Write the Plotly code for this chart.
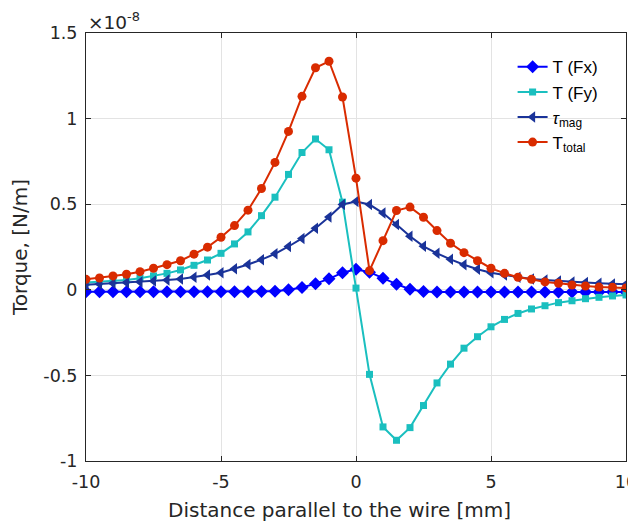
import plotly.graph_objects as go

# Distance parallel to the wire [mm]
x_mm = [i * 0.5 - 10 for i in range(41)]

# Torque values in units of 1e-8 N/m
T_Fx = [-0.012, -0.012, -0.012, -0.012, -0.012, -0.012, -0.012, -0.012, -0.012, -0.012,
        -0.012, -0.012, -0.011, -0.010, -0.008, 0.000, 0.013, 0.036, 0.064, 0.100,
        0.120, 0.103, 0.067, 0.033, 0.003, -0.010, -0.013, -0.013, -0.013, -0.013,
        -0.013, -0.013, -0.013, -0.013, -0.013, -0.013, -0.013, -0.013, -0.013, -0.013, -0.013]

T_Fy = [0.042, 0.047, 0.051, 0.057, 0.067, 0.081, 0.096, 0.116, 0.143, 0.174,
        0.213, 0.268, 0.338, 0.433, 0.541, 0.674, 0.802, 0.881, 0.818, 0.512,
        0.010, -0.494, -0.801, -0.879, -0.805, -0.676, -0.544, -0.434, -0.341, -0.274,
        -0.216, -0.173, -0.138, -0.112, -0.093, -0.075, -0.064, -0.052, -0.044, -0.036, -0.030]

tau_mag = [0.030, 0.034, 0.038, 0.042, 0.046, 0.051, 0.057, 0.063, 0.073, 0.087,
           0.100, 0.123, 0.148, 0.176, 0.210, 0.253, 0.300, 0.360, 0.425, 0.498,
           0.516, 0.498, 0.448, 0.382, 0.313, 0.254, 0.213, 0.178, 0.146, 0.120,
           0.100, 0.087, 0.073, 0.063, 0.057, 0.051, 0.046, 0.042, 0.038, 0.034, 0.032]

T_total = [0.061, 0.069, 0.081, 0.091, 0.106, 0.126, 0.147, 0.170, 0.208, 0.249,
           0.307, 0.375, 0.465, 0.592, 0.744, 0.925, 1.130, 1.297, 1.335, 1.126,
           0.652, 0.112, 0.287, 0.463, 0.483, 0.424, 0.346, 0.272, 0.217, 0.170,
           0.126, 0.096, 0.073, 0.061, 0.046, 0.038, 0.028, 0.022, 0.016, 0.015, 0.011]

y_ticks = [-1, -0.5, 0, 0.5, 1, 1.5]
y_tick_text = ["-1", "-0.5", "0", "0.5", "1", "1.5"]
x_ticks = [-10, -5, 0, 5, 10]
x_tick_text = ["-10", "-5", "0", "5", "10"]

names = ["T (Fx)", "T (Fy)", "<i>τ</i><sub>mag</sub>", "T<sub>total</sub>"]
series = [T_Fx, T_Fy, tau_mag, T_total]
colors = ["#0000ff", "#1abfbf", "#1a3399", "#d92b00"]
symbols = ["diamond", "square", "triangle-left", "circle"]
msizes = [10, 7, 10, 9]

fig = go.Figure()
for name, ys, c, s, ms in zip(names, series, colors, symbols, msizes):
    fig.add_trace(go.Scatter(
        x=x_mm, y=ys, mode="lines+markers", name=name,
        line=dict(color=c, width=2),
        marker=dict(symbol=s, size=ms, color=c, line=dict(width=0)),
    ))

axis_common = dict(
    showgrid=True, gridcolor="#e3e3e3", gridwidth=1,
    showline=True, linecolor="#262626", linewidth=1, mirror="ticks",
    ticks="inside", ticklen=5, tickcolor="#262626",
    zeroline=False, automargin=False,
    tickfont=dict(family="DejaVu Sans", size=17.5, color="#262626"),
)

fig.update_xaxes(
    range=[-10, 10], tickvals=x_ticks, ticktext=x_tick_text,
    ticklabelstandoff=5,
    **axis_common,
)
fig.update_yaxes(
    range=[-1, 1.5], tickvals=y_ticks, ticktext=y_tick_text,
    ticklabelstandoff=4,
    title=dict(text="Torque, [N/m]",
               font=dict(family="DejaVu Sans", size=20, color="#262626"), standoff=10),
    **axis_common,
)

# x-axis title (offset left of centre, as in the reference)
fig.add_annotation(
    xref="paper", yref="paper", x=0.47, y=0, xanchor="center", yanchor="top",
    text="Distance parallel to the wire [mm]", showarrow=False,
    font=dict(family="DejaVu Sans", size=20, color="#262626"),
    yshift=-35,
)

fig.add_annotation(
    xref="paper", yref="paper", x=0, y=1, xanchor="left", yanchor="bottom",
    text="×10<sup>-8</sup>", showarrow=False,
    font=dict(family="DejaVu Sans", size=18.5, color="#262626"),
    yshift=-2,
)

# The page body adds an 8px offset; margins compensate so the plot area
# lands where the reference's does.
fig.update_layout(
    width=636, height=521,
    margin=dict(l=78, r=18, t=25, b=68),
    paper_bgcolor="white", plot_bgcolor="white",
    showlegend=True,
    legend=dict(x=0.79, y=0.962, xanchor="left", yanchor="top",
                bgcolor="rgba(255,255,255,0)", borderwidth=0,
                font=dict(family="Liberation Sans, Arial", size=17, color="#000000"),
                tracegroupgap=0),
)

fig.write_html("out.html")
